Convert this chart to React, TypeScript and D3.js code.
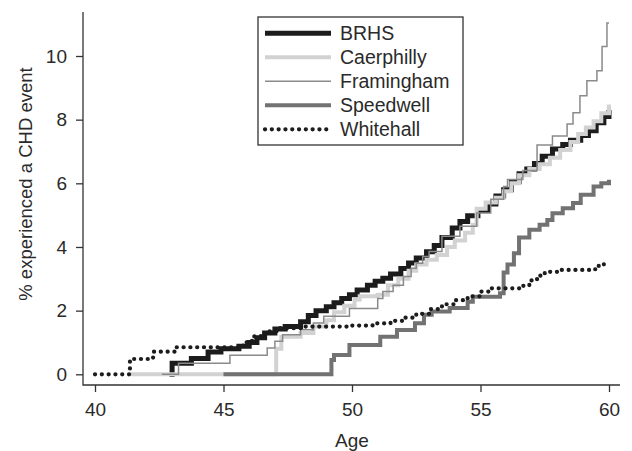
import { useEffect, useRef } from 'react';
import * as d3 from 'd3';

// Step data (age, cumulative % with CHD event)
const brhsAge = [42.9, 43.0, 43.75, 44.4, 44.9, 45.6, 46.0, 46.3, 46.6, 47.0, 47.4, 48.0, 48.3, 48.6, 49.0, 49.3, 49.6, 49.9, 50.2, 50.6, 50.9, 51.2, 51.5, 51.9, 52.2, 52.5, 52.9, 53.2, 53.5, 53.9, 54.2, 54.5, 54.9, 55.3, 55.6, 55.9, 56.2, 56.5, 56.8, 57.1, 57.4, 57.8, 58.2, 58.5, 58.9, 59.2, 59.5, 59.8, 60.0];
const brhsPct = [0, 0.35, 0.5, 0.7, 0.8, 0.88, 1.0, 1.15, 1.3, 1.42, 1.5, 1.65, 1.85, 2.0, 2.12, 2.25, 2.38, 2.5, 2.65, 2.8, 2.92, 3.02, 3.15, 3.32, 3.5, 3.65, 3.85, 4.05, 4.3, 4.6, 4.8, 4.98, 5.15, 5.35, 5.6, 5.8, 6.05, 6.3, 6.45, 6.62, 6.85, 7.08, 7.22, 7.35, 7.5, 7.65, 7.9, 8.1, 8.3];

const caerAge = [41.4, 47.05, 47.25, 48.0, 48.5, 49.0, 49.3, 49.7, 50.1, 50.3, 51.0, 51.4, 51.8, 52.2, 52.5, 52.9, 53.3, 53.7, 54.0, 54.4, 54.7, 54.85, 55.2, 55.6, 55.9, 56.2, 56.5, 56.9, 57.3, 57.7, 58.1, 58.5, 58.8, 59.1, 59.4, 59.7, 60.0];
const caerPct = [0, 0.8, 1.18, 1.3, 1.5, 1.7, 1.95, 2.15, 2.35, 2.45, 2.5, 2.8, 3.0, 3.25, 3.45, 3.6, 3.75, 4.0, 4.2, 4.45, 4.7, 5.2, 5.4, 5.55, 5.75, 6.0, 6.25, 6.45, 6.6, 6.8, 7.05, 7.3, 7.55, 7.75, 7.95, 8.2, 8.48];

const framAge = [42.6, 43.25, 45.25, 46.7, 47.0, 47.3, 48.0, 48.5, 48.9, 49.9, 51.0, 51.2, 51.6, 52.0, 52.3, 52.5, 52.75, 53.0, 53.5, 54.2, 54.85, 55.4, 55.9, 56.05, 56.65, 57.2, 57.8, 58.37, 58.6, 58.87, 59.14, 59.53, 59.73, 59.92, 60.0];
const framPct = [0, 0.35, 0.6, 0.83, 1.04, 1.24, 1.4, 1.61, 1.82, 2.07, 2.38, 2.6, 2.8, 3.07, 3.33, 3.49, 3.7, 3.86, 4.34, 4.65, 5.07, 5.5, 5.9, 6.12, 6.4, 7.2, 7.49, 7.86, 8.22, 8.75, 9.22, 9.54, 10.3, 11.04, 11.04];

const speedAge = [45.0, 49.2, 49.3, 49.9, 51.1, 51.75, 52.45, 52.8, 53.1, 53.8, 54.5, 54.7, 55.76, 55.9, 56.05, 56.3, 56.5, 56.9, 57.3, 57.6, 57.8, 58.2, 58.6, 58.9, 59.4, 59.7, 60.0];
const speedPct = [0, 0.45, 0.61, 0.92, 1.18, 1.39, 1.6, 1.87, 1.97, 2.08, 2.28, 2.44, 2.55, 3.2, 3.45, 3.8, 4.3, 4.54, 4.7, 4.85, 5.06, 5.22, 5.38, 5.64, 5.9, 6.0, 6.11];

const whiteAge = [40.0, 41.36, 42.26, 43.1, 45.6, 45.9, 46.2, 46.6, 47.2, 48.0, 50.0, 50.8, 51.5, 52.0, 52.5, 53.0, 53.5, 54.0, 54.5, 55.0, 55.4, 56.6, 56.9, 57.2, 57.5, 58.0, 59.4, 59.6, 59.8];
const whitePct = [0, 0.48, 0.71, 0.85, 0.9, 1.05, 1.2, 1.35, 1.45, 1.5, 1.53, 1.6, 1.68, 1.78, 1.9, 2.05, 2.2, 2.33, 2.45, 2.6, 2.7, 2.78, 2.95, 3.1, 3.22, 3.28, 3.3, 3.42, 3.55];

const xTicks = [40, 45, 50, 55, 60];
const yTicks = [0, 2, 4, 6, 8, 10];

const series = [
  { name: 'BRHS', ages: brhsAge, pcts: brhsPct, color: '#1c1c1c', width: 5, dash: null },
  { name: 'Caerphilly', ages: caerAge, pcts: caerPct, color: '#d2d2d2', width: 4, dash: null },
  { name: 'Framingham', ages: framAge, pcts: framPct, color: '#8a8a8a', width: 1.5, dash: null },
  { name: 'Speedwell', ages: speedAge, pcts: speedPct, color: '#727272', width: 4, dash: null },
  { name: 'Whitehall', ages: whiteAge, pcts: whitePct, color: '#1c1c1c', width: 4.2, dash: '0.1 6.7' },
];

const FONT = '"Liberation Sans", Arial, Helvetica, sans-serif';

export default function App() {
  const svgRef = useRef<SVGSVGElement>(null);
  const width = 632;
  const height = 451;

  useEffect(() => {
    if (!svgRef.current) return;
    const svg = d3.select(svgRef.current);
    svg.selectAll('*').remove();

    const x = d3.scaleLinear().domain([40, 60]).range([95, 609]);
    const y = d3.scaleLinear().domain([0, 10]).range([374.3, 56]);

    const left = 83;
    const bottom = 385;
    const top = 12;
    const right = 620;

    // Lines
    const line = d3.line<[number, number]>()
      .x(d => x(d[0]))
      .y(d => y(d[1]))
      .curve(d3.curveStepAfter);

    series.forEach(s => {
      const pts: [number, number][] = s.ages.map((a, i) => [a, s.pcts[i]]);
      const p = svg.append('path')
        .datum(pts)
        .attr('fill', 'none')
        .attr('stroke', s.color)
        .attr('stroke-width', s.width)
        .attr('d', line);
      if (s.dash) {
        p.attr('stroke-dasharray', s.dash).attr('stroke-linecap', 'round');
      }
    });

    // Axes
    const xAxis = svg.append('g')
      .attr('transform', `translate(0,${bottom})`)
      .call(d3.axisBottom(x).tickValues(xTicks).tickSize(7).tickPadding(11));
    xAxis.select('.domain').remove();

    const yAxis = svg.append('g')
      .attr('transform', `translate(${left},0)`)
      .call(d3.axisLeft(y).tickValues(yTicks).tickSize(7).tickPadding(9));
    yAxis.select('.domain').remove();

    [xAxis, yAxis].forEach(ax => {
      ax.selectAll('line').attr('stroke', '#333').attr('stroke-width', 1.3);
      ax.selectAll('text')
        .style('font-family', FONT)
        .style('font-size', '19px')
        .attr('fill', '#2a2a2a');
    });

    svg.append('path')
      .attr('d', `M${left},${top}V${bottom}H${right}`)
      .attr('fill', 'none')
      .attr('stroke', '#333')
      .attr('stroke-width', 1.3);

    // Axis titles
    svg.append('text')
      .attr('x', 352)
      .attr('y', 447)
      .attr('text-anchor', 'middle')
      .style('font-family', FONT)
      .style('font-size', '19px')
      .attr('fill', '#2a2a2a')
      .text('Age');

    svg.append('text')
      .attr('transform', 'translate(31.5,184) rotate(-90)')
      .attr('text-anchor', 'middle')
      .style('font-family', FONT)
      .style('font-size', '18.5px')
      .attr('fill', '#2a2a2a')
      .text('% experienced a CHD event');

    // Legend
    const legend = svg.append('g').attr('transform', 'translate(258,17)');
    legend.append('rect')
      .attr('width', 205)
      .attr('height', 128)
      .attr('fill', 'white')
      .attr('stroke', '#333')
      .attr('stroke-width', 1.3);

    series.forEach((s, i) => {
      const cy = 16.3 + i * 24;
      const l = legend.append('line')
        .attr('x1', 7)
        .attr('x2', 73)
        .attr('y1', cy)
        .attr('y2', cy)
        .attr('stroke', s.color)
        .attr('stroke-width', s.width);
      if (s.dash) l.attr('stroke-dasharray', s.dash).attr('stroke-linecap', 'round');

      legend.append('text')
        .attr('x', 82)
        .attr('y', cy + 6.7)
        .style('font-family', FONT)
        .style('font-size', '19.5px')
        .attr('fill', '#2a2a2a')
        .text(s.name);
    });
  }, []);

  return (
    <svg
      ref={svgRef}
      width={width}
      height={height}
      style={{ position: 'absolute', left: 0, top: 0, background: 'white' }}
    />
  );
}
